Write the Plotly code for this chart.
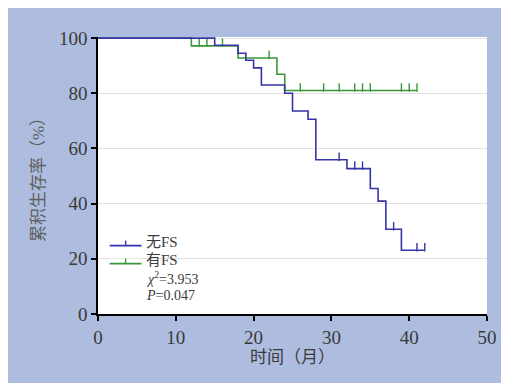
import plotly.graph_objects as go

# ---- data ----
no_fs_time = [0, 15, 18, 19, 20, 21, 24, 25, 27, 28, 32, 35, 36, 37, 39, 42]
no_fs_surv = [100, 97.4, 94.5, 92.0, 89.2, 83.0, 80.0, 73.6, 70.6, 55.9, 52.7, 45.5, 40.9, 30.7, 23.1, 23.1]
no_fs_censor = [31, 33, 34, 38, 41, 42]

fs_time = [0, 12, 18, 23, 24, 41]
fs_surv = [100, 97.2, 92.8, 86.9, 81.0, 81.0]
fs_censor = [13, 14, 16, 22, 26, 29, 31, 33, 34, 35, 39, 40, 41]

labels = ["无FS", "有FS"]
chi2_text = "<i>χ</i><sup>2</sup>=3.953"
p_text = "<i>P</i>=0.047"
x_ticks = [0, 10, 20, 30, 40, 50]
y_ticks = [0, 20, 40, 60, 80, 100]
x_title = "时间（月）"
y_title = "累积生存率（%）"

BLUE = "#3535a8"
GREEN = "#3a963a"
TXT = "#3a3a3a"
FONT = "'Liberation Serif', 'Times New Roman', 'Noto Sans CJK SC', serif"


def surv_at(times, survs, t):
    s = survs[0]
    for ti, si in zip(times, survs):
        if ti <= t:
            s = si
    return s


TICK_UP = 1.1  # censor ticks drawn just above the curve (in % units)

fig = go.Figure()

for name, times, survs, cens, col in [
    (labels[1], fs_time, fs_surv, fs_censor, GREEN),
    (labels[0], no_fs_time, no_fs_surv, no_fs_censor, BLUE),
]:
    fig.add_trace(go.Scatter(x=times, y=survs, mode="lines", name=name,
                             line=dict(color=col, width=1.6, shape="hv"),
                             showlegend=False, hoverinfo="skip"))
    fig.add_trace(go.Scatter(x=cens, y=[surv_at(times, survs, t) + TICK_UP for t in cens], mode="markers",
                             marker=dict(symbol="line-ns", size=6, line=dict(color=col, width=1.4)),
                             showlegend=False, hoverinfo="skip"))

# ---- legend drawn inside the plot (line sample with censor tick + label) ----
legend_rows = [(labels[0], BLUE, 0.260, 0.247), (labels[1], GREEN, 0.195, 0.182)]
for lab, col, ty, ly in legend_rows:
    fig.add_shape(type="line", xref="paper", yref="paper", x0=0.030, x1=0.112, y0=ly, y1=ly,
                  line=dict(color=col, width=1.6))
    fig.add_shape(type="line", xref="paper", yref="paper", x0=0.071, x1=0.071, y0=ly, y1=ly + 0.018,
                  line=dict(color=col, width=1.4))
    fig.add_annotation(x=0.119, y=ty, xref="paper", yref="paper", text=lab, showarrow=False,
                       xanchor="left", yanchor="middle", font=dict(family=FONT, size=15, color=TXT))

fig.add_annotation(x=0.119, y=0.130, xref="paper", yref="paper", text=chi2_text, showarrow=False,
                   xanchor="left", yanchor="middle", font=dict(family=FONT, size=14, color=TXT))
fig.add_annotation(x=0.119, y=0.065, xref="paper", yref="paper", text=p_text, showarrow=False,
                   xanchor="left", yanchor="middle", font=dict(family=FONT, size=14, color=TXT))

fig.update_layout(
    width=501, height=375,
    margin=dict(l=90, r=17, t=29, b=69),
    paper_bgcolor="#aebddf",
    plot_bgcolor="white",
    font=dict(family=FONT, color=TXT),
    showlegend=False,
    xaxis=dict(range=[0, 50], tickvals=x_ticks, ticks="outside", ticklen=5, tickwidth=1.5, tickcolor="black",
               showline=True, linecolor="black", linewidth=1.5, showgrid=False, zeroline=False,
               tickfont=dict(family=FONT, size=19, color=TXT),
               title=dict(text=x_title, font=dict(family=FONT, size=17, color=TXT), standoff=2)),
    yaxis=dict(range=[0, 100.4], tickvals=y_ticks, ticks="outside", ticklen=5, tickwidth=1.5, tickcolor="black",
               showline=True, linecolor="black", linewidth=1.5, showgrid=True, gridcolor="#e2e2e2", gridwidth=1,
               zeroline=False, tickfont=dict(family=FONT, size=19, color=TXT),
               title=dict(text=y_title, font=dict(family=FONT, size=17, color="#606060"), standoff=10)),
)

fig.write_html("out.html", post_script="document.body.style.overflow='hidden';")
